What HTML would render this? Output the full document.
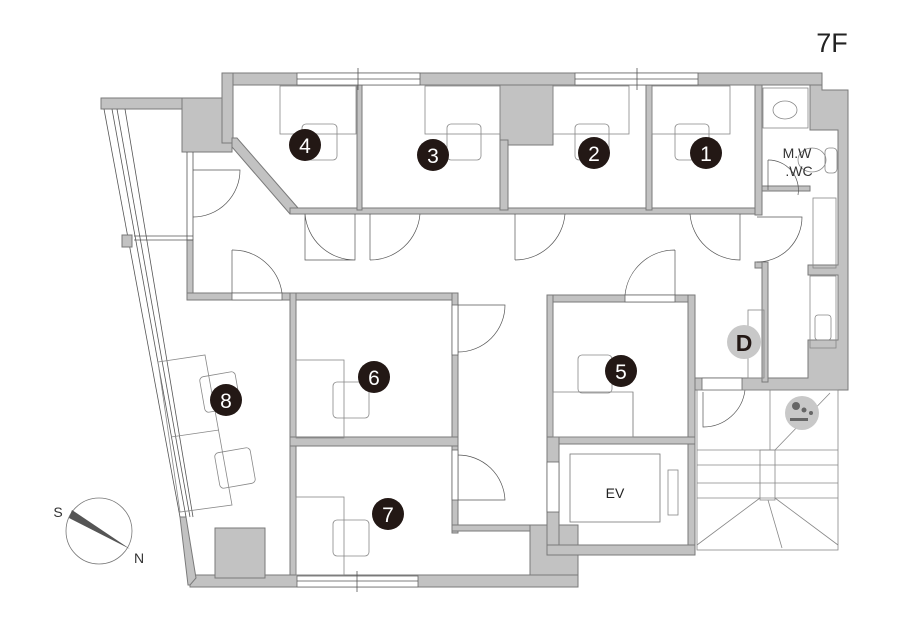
<!DOCTYPE html>
<html><head><meta charset="utf-8"><style>
html,body{margin:0;padding:0;background:#fff;}
svg{display:block;font-family:"Liberation Sans",sans-serif;}
</style></head><body>
<svg width="902" height="618" viewBox="0 0 902 618" xmlns="http://www.w3.org/2000/svg">
<g fill="#c2c2c2" stroke="#7a7a7a" stroke-width="1">
<!-- top outer wall -->
<rect x="222" y="73" width="600" height="12"/>
<polygon points="822,73 822,90 848,90 848,390 695,390 695,378 808,378 808,340 838,340 838,275 808,275 808,265 838,265 838,190 838,130 810,130 810,85 822,85"/>
<!-- top-left -->
<rect x="101" y="98" width="131" height="11"/>
<rect x="182" y="98" width="50" height="54"/>
<rect x="222" y="73" width="11" height="70"/>
<polygon points="232,138 237,138 298,208 295,214 290,214 232,147"/>
<!-- corridor wall under rooms -->
<rect x="290" y="208" width="472" height="6"/>
<rect x="357" y="85" width="5" height="125"/>
<rect x="500" y="85" width="53" height="60"/>
<rect x="500" y="140" width="8" height="70"/>
<rect x="646" y="85" width="6" height="125"/>
<rect x="755" y="85" width="7" height="130"/>
<rect x="762" y="186" width="48" height="5"/>
<rect x="755" y="262" width="12" height="6"/>
<rect x="762" y="262" width="6" height="120"/>
<!-- left corridor -->
<rect x="187" y="240" width="6" height="60"/>
<rect x="187" y="293" width="271" height="7"/>
<rect x="290" y="293" width="6" height="290"/>
<rect x="452" y="293" width="6" height="240"/>
<rect x="290" y="437" width="168" height="9"/>
<rect x="452" y="525" width="95" height="6"/>
<rect x="530" y="525" width="48" height="62"/>
<rect x="190" y="575" width="388" height="12"/>
<rect x="215" y="528" width="50" height="50"/>
<polygon points="180,517 186,517 196,578 190,585 188,585"/>
<!-- room 5 + EV -->
<rect x="547" y="295" width="148" height="7"/>
<rect x="547" y="295" width="6" height="165"/>
<rect x="688" y="295" width="7" height="260"/>
<rect x="547" y="437" width="148" height="7"/>
<rect x="547" y="437" width="12" height="118"/>
<rect x="547" y="545" width="148" height="10"/>
</g>
<!-- windows -->
<g fill="#fff" stroke="#666" stroke-width="0.8">
<rect x="297" y="73" width="123" height="12"/>
<rect x="575" y="73" width="123" height="12"/>
<rect x="297" y="576" width="121" height="11"/>
<rect x="625" y="295" width="50" height="7"/>
<rect x="232" y="293" width="50" height="7"/>
<rect x="452" y="305" width="6" height="50"/>
<rect x="452" y="450" width="6" height="50"/>
<rect x="547" y="462" width="12" height="50"/>
<rect x="702" y="378" width="40" height="12"/>
</g>
<g stroke="#555" stroke-width="0.8" fill="none">
<line x1="297" y1="79" x2="420" y2="79"/><line x1="358" y1="68" x2="358" y2="90"/>
<line x1="575" y1="79" x2="698" y2="79"/><line x1="637" y1="68" x2="637" y2="90"/>
<line x1="297" y1="581" x2="418" y2="581"/><line x1="357" y1="571" x2="357" y2="592"/>
<!-- slanted window -->
<line x1="104" y1="109" x2="180" y2="517"/><line x1="112" y1="109" x2="186" y2="517"/>
<line x1="117" y1="109" x2="190" y2="517"/><line x1="125" y1="109" x2="193" y2="517"/>
<line x1="187" y1="152" x2="187" y2="240"/><line x1="193" y1="152" x2="193" y2="240"/>
<line x1="134" y1="236" x2="193" y2="236"/><line x1="134" y1="240" x2="193" y2="240"/>
</g>
<rect x="122" y="235" width="10" height="12" fill="#c2c2c2" stroke="#777"/>
<!-- doors -->
<g stroke="#555" stroke-width="0.7" fill="none">
<path d="M193 170 H240 A47 47 0 0 1 193 217"/>
<path d="M305 214 V260 H355 V214 M305 214 A50 50 0 0 0 355 260"/>
<path d="M370 214 V260 M370 260 A50 50 0 0 0 420 214"/>
<path d="M515 214 V260 M515 260 A50 50 0 0 0 565 214"/>
<path d="M690 214 A50 50 0 0 0 740 260 V214"/>
<path d="M757 217 H802 A45 45 0 0 1 757 262"/>
<path d="M232 250 V293 M232 250 A50 50 0 0 1 282 293"/>
<path d="M675 250 V295 M675 250 A50 50 0 0 0 625 295"/>
<path d="M458 305 H505 A47 47 0 0 1 458 352"/>
<path d="M458 455 A47 47 0 0 1 505 500 H458"/>
<path d="M703 392 V427 A42 42 0 0 0 745 390"/>
<path d="M768 160 A30 30 0 0 1 798 195 M768 160 V190"/>
</g>
<!-- furniture -->
<g stroke="#888" stroke-width="0.8" fill="none">
<rect x="280" y="86" width="76" height="48"/><rect x="302" y="124" width="35" height="36" rx="4"/>
<rect x="425" y="86" width="75" height="48"/><rect x="447" y="124" width="34" height="36" rx="4"/>
<rect x="553" y="86" width="76" height="48"/><rect x="575" y="124" width="34" height="36" rx="4"/>
<rect x="652" y="86" width="78" height="48"/><rect x="675" y="124" width="34" height="36" rx="4"/>
<rect x="296" y="360" width="48" height="78"/><rect x="333" y="382" width="36" height="36" rx="4"/>
<rect x="296" y="497" width="48" height="78"/><rect x="333" y="520" width="36" height="36" rx="4"/>
<rect x="553" y="392" width="80" height="45"/><line x1="633" y1="392" x2="633" y2="437"/><rect x="578" y="355" width="34" height="38" rx="4"/>
<polygon points="158,362 205,355 232,505 180,512"/><line x1="171" y1="437" x2="219" y2="430"/>
<rect x="202" y="374" width="36" height="36" rx="4" transform="rotate(-10 220 392)"/>
<rect x="217" y="450" width="36" height="36" rx="4" transform="rotate(-10 235 468)"/>
<rect x="570" y="454" width="90" height="68" stroke="#777"/><rect x="668" y="470" width="10" height="45"/>
<rect x="763" y="88" width="45" height="40"/><ellipse cx="785" cy="110" rx="12" ry="9"/>
<rect x="825" y="148" width="12" height="25" rx="4"/><ellipse cx="812" cy="160" rx="14" ry="12"/>
<rect x="813" y="198" width="23" height="70"/>
<rect x="810" y="276" width="26" height="72"/><rect x="815" y="315" width="16" height="25" rx="3"/>
<rect x="748" y="310" width="16" height="68"/>
<!-- stairs -->
<rect x="697" y="390" width="141" height="160"/>
<line x1="697" y1="450" x2="838" y2="450"/><line x1="697" y1="465" x2="838" y2="465"/>
<line x1="697" y1="483" x2="838" y2="483"/><line x1="697" y1="498" x2="838" y2="498"/>
<rect x="760" y="450" width="15" height="50"/>
<line x1="760" y1="498" x2="697" y2="545"/><line x1="768" y1="500" x2="782" y2="548"/>
<line x1="775" y1="498" x2="838" y2="545"/><line x1="775" y1="450" x2="830" y2="393"/>
<line x1="770" y1="390" x2="770" y2="450"/>
</g>
<!-- markers -->
<g fill="#231815">
<circle cx="305" cy="145" r="16"/><circle cx="433" cy="155" r="16"/><circle cx="594" cy="153" r="16"/>
<circle cx="706" cy="153" r="16"/><circle cx="621" cy="371" r="16"/><circle cx="374" cy="377" r="16"/>
<circle cx="388" cy="514" r="16"/><circle cx="226" cy="400" r="16"/>
</g>
<g fill="#fff" font-size="21" text-anchor="middle">
<text x="305" y="153">4</text><text x="433" y="163">3</text><text x="594" y="161">2</text>
<text x="706" y="161">1</text><text x="621" y="379">5</text><text x="374" y="385">6</text>
<text x="388" y="522">7</text><text x="226" y="408">8</text>
</g>
<circle cx="744" cy="342" r="17" fill="#c8c8c8"/>
<text x="744" y="351" font-size="23" font-weight="bold" text-anchor="middle" fill="#231815">D</text>
<circle cx="802" cy="413" r="17" fill="#c8c8c8"/>
<g fill="#666"><circle cx="796" cy="406" r="4"/><circle cx="804" cy="410" r="2.5"/><circle cx="811" cy="413" r="2"/><rect x="790" y="418" width="18" height="3"/></g>
<text x="797" y="158" font-size="14" text-anchor="middle" fill="#333">M.W</text>
<text x="799" y="176" font-size="14" text-anchor="middle" fill="#333">.WC</text>
<text x="615" y="498" font-size="14" text-anchor="middle" fill="#222">EV</text>
<text x="832" y="52" font-size="27" text-anchor="middle" fill="#222">7F</text>
<!-- compass -->
<circle cx="99" cy="531" r="33" fill="none" stroke="#777" stroke-width="0.8"/>
<polygon points="72,510 130,549 69,518" fill="#555"/>
<text x="58" y="517" font-size="14" text-anchor="middle" fill="#333">S</text>
<text x="139" y="563" font-size="14" text-anchor="middle" fill="#333">N</text>
</svg>
</body></html>
